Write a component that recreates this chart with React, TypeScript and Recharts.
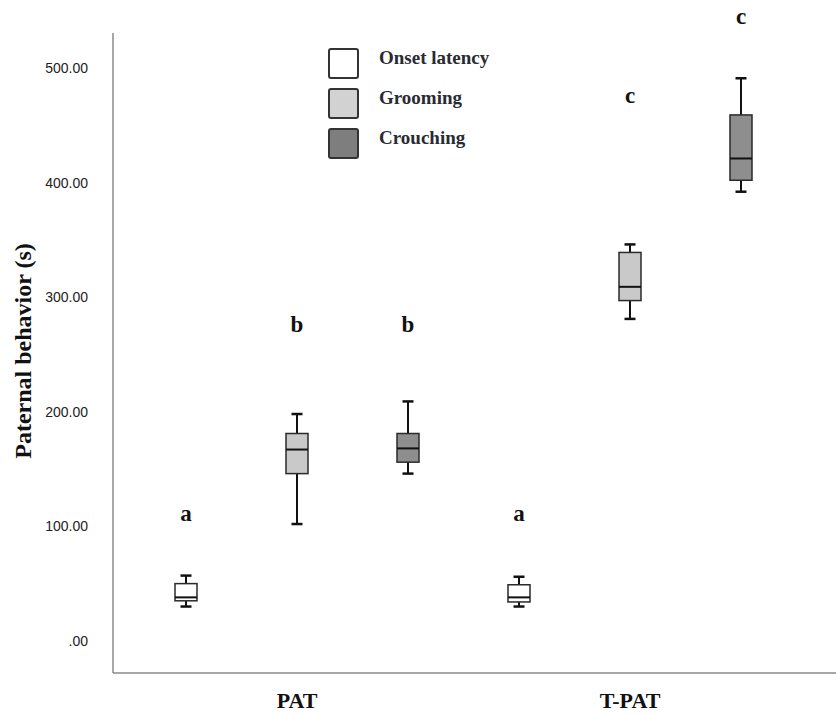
import { ComposedChart, Bar, XAxis, YAxis } from "recharts";

const categories = ["PAT", "T-PAT"];
const seriesNames = ["Onset latency", "Grooming", "Crouching"];

// [min, q1, median, q3, max] for each category
const onsetLatency = [
  [30, 35, 38, 50, 57],
  [30, 34, 38, 49, 56],
];
const grooming = [
  [102, 146, 167, 181, 198],
  [281, 297, 309, 339, 346],
];
const crouching = [
  [146, 156, 168, 181, 209],
  [392, 402, 421, 459, 491],
];

// significance letters and the height (s) of their baseline
const onsetLetters = ["a", "a"];
const groomingLetters = ["b", "c"];
const crouchingLetters = ["b", "c"];
const onsetLetterAt = [105, 105];
const groomingLetterAt = [270, 469];
const crouchingLetterAt = [270, 538];

const yTicks = [0, 100, 200, 300, 400, 500];

const serif = "'Liberation Serif', 'Times New Roman', serif";
const sans = "'Liberation Sans', Arial, sans-serif";

const data = categories.map((name, i) => ({
  name,
  onset: onsetLatency[i],
  grooming: grooming[i],
  crouching: crouching[i],
  onsetLetter: onsetLetters[i],
  groomingLetter: groomingLetters[i],
  crouchingLetter: crouchingLetters[i],
  onsetLetterAt: onsetLetterAt[i],
  groomingLetterAt: groomingLetterAt[i],
  crouchingLetterAt: crouchingLetterAt[i],
}));

const fills: Record<string, string> = {
  onset: "#ffffff",
  grooming: "#c9c9c9",
  crouching: "#8e8e8e",
};

const legendFills = ["#ffffff", "#d2d2d2", "#7e7e7e"];

function makeBox(key: string) {
  return (props: any) => {
    const { x, y, width, height, payload } = props;
    const s: number[] = payload[key];
    const lo = s[0];
    const hi = s[4];
    const py = (v: number) => y + ((hi - v) / (hi - lo)) * height;
    const cx = x + width / 2;
    const bw = 22;
    const cap = 11;
    return (
      <g>
        <line x1={cx} x2={cx} y1={py(s[4])} y2={py(s[3])} stroke="#111" strokeWidth={2} />
        <line x1={cx} x2={cx} y1={py(s[1])} y2={py(s[0])} stroke="#111" strokeWidth={2} />
        <line x1={cx - cap / 2} x2={cx + cap / 2} y1={py(s[4])} y2={py(s[4])} stroke="#111" strokeWidth={2.5} />
        <line x1={cx - cap / 2} x2={cx + cap / 2} y1={py(s[0])} y2={py(s[0])} stroke="#111" strokeWidth={2.5} />
        <rect
          x={cx - bw / 2}
          y={py(s[3])}
          width={bw}
          height={py(s[1]) - py(s[3])}
          fill={fills[key]}
          stroke="#2a2a2a"
          strokeWidth={1.5}
        />
        <line x1={cx - bw / 2} x2={cx + bw / 2} y1={py(s[2])} y2={py(s[2])} stroke="#111" strokeWidth={2} />
        <text
          x={cx}
          y={py(payload[key + "LetterAt"])}
          textAnchor="middle"
          fontFamily={serif}
          fontWeight="bold"
          fontSize={23}
          fill="#111"
        >
          {payload[key + "Letter"]}
        </text>
      </g>
    );
  };
}

const YLabel = (props: any) => {
  const { viewBox } = props;
  const cy = viewBox.y + viewBox.height / 2;
  return (
    <text
      transform={`translate(31, ${cy - 2}) rotate(-90)`}
      textAnchor="middle"
      fontFamily={serif}
      fontWeight="bold"
      fontSize={24}
      fill="#111"
    >
      Paternal behavior (s)
    </text>
  );
};

export default function App() {
  return (
    <div style={{ position: "absolute", left: 0, top: 0, width: 836, height: 714, background: "#fff" }}>
      <ComposedChart
        width={836}
        height={714}
        data={data}
        margin={{ top: 33, right: 0, bottom: 0, left: 33 }}
        barCategoryGap={0}
        barGap={0}
      >
        <XAxis
          dataKey="name"
          height={41}
          padding={{ left: 17.5, right: 39.5 }}
          stroke="#8a8a8a"
          strokeWidth={1.5}
          tickLine={false}
          tickSize={0}
          tickMargin={19}
          tick={{ fontFamily: serif, fontWeight: "bold", fontSize: 22, fill: "#111" }}
        />
        <YAxis
          width={80}
          domain={[-28, 530.5]}
          ticks={yTicks}
          stroke="#8a8a8a"
          strokeWidth={1.5}
          tickLine={false}
          tickSize={0}
          tickMargin={25}
          tick={{ fontFamily: sans, fontSize: 14, fill: "#222" }}
          tickFormatter={(v: number) => (v === 0 ? ".00" : v.toFixed(2))}
          label={<YLabel />}
        />
        <Bar
          dataKey={(d: any) => [d.onset[0], d.onset[4]]}
          name={seriesNames[0]}
          shape={makeBox("onset")}
          isAnimationActive={false}
        />
        <Bar
          dataKey={(d: any) => [d.grooming[0], d.grooming[4]]}
          name={seriesNames[1]}
          shape={makeBox("grooming")}
          isAnimationActive={false}
        />
        <Bar
          dataKey={(d: any) => [d.crouching[0], d.crouching[4]]}
          name={seriesNames[2]}
          shape={makeBox("crouching")}
          isAnimationActive={false}
        />
      </ComposedChart>
      <div style={{ position: "absolute", left: 328, top: 43 }}>
        {seriesNames.map((n, i) => (
          <div key={n} style={{ display: "flex", alignItems: "center", height: 40 }}>
            <div
              style={{
                width: 27,
                height: 27,
                border: "2.5px solid #333",
                borderRadius: 3,
                background: legendFills[i],
                boxSizing: "content-box",
              }}
            />
            <span
              style={{
                marginLeft: 20,
                fontFamily: serif,
                fontWeight: "bold",
                fontSize: 19,
                color: "#2a2a33",
                marginTop: -10,
              }}
            >
              {n}
            </span>
          </div>
        ))}
      </div>
    </div>
  );
}
